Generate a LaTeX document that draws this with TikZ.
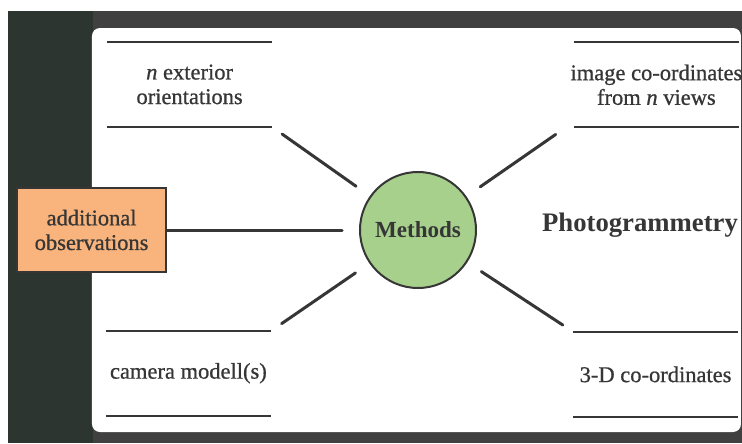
\documentclass[tikz,border=0pt]{standalone}
\usepackage{fontspec}
\setmainfont{Liberation Serif}
\newfontfamily\labelfamily[FakeBold=0.8]{Liberation Serif}
\usepackage{tikz}
\usetikzlibrary{shapes.geometric, positioning, calc}
\definecolor{framegray}{HTML}{404040}
\definecolor{bandgreen}{HTML}{2D3531}
\definecolor{peach}{HTML}{F8B47C}
\definecolor{leaf}{HTML}{A8D08D}
\definecolor{inkgray}{HTML}{363636}
\newcommand{\labelfont}{\labelfamily\fontsize{16}{17.5}\selectfont}
\tikzstyle{textrule} = [line width=0.05cm, draw=inkgray]
\tikzstyle{rulebox} = [rectangle,
minimum width=4.125cm,
minimum height=2.125cm,
text centered,
align=center,
font=\labelfont,
text=inkgray,
append after command={
        \pgfextra{
            \draw[textrule] (\tikzlastnode.center) ++(-2.06,1.06) -- ++(4.125,0);
            \draw[textrule] (\tikzlastnode.center) ++(-2.06,-1.06) -- ++(4.125,0);
        }
    }
]
\tikzstyle{method} = [circle,
minimum size=2.9cm,
draw=inkgray, line width=0.05cm,
fill=leaf,
font=\fontsize{16.4}{18}\selectfont\bfseries,
text=inkgray]
\tikzstyle{extra} = [rectangle,
minimum width=3.725cm,
minimum height=2.1cm,
align=center,
draw=inkgray, line width=0.04cm,
fill=peach,
font=\labelfont,
text=inkgray]
\tikzstyle{heading} = [font=\fontsize{19}{22}\selectfont\bfseries, text=inkgray]
\tikzstyle{link} = [line width=0.075cm, draw=inkgray, line cap=round,
shorten <=0.3cm, shorten >=0.42cm]

\begin{document}
\begin{tikzpicture}[node distance=5.8cm]
                \useasboundingbox (-10.45,-5.325) rectangle (8.1,5.75);
                % dark frame and white panel
                \fill[framegray] (-10.25,-5.325) rectangle (8.1,5.475);
                \fill[bandgreen] (-10.25,-5.325) rectangle (-8.125,5.475);
                \fill[white, rounded corners=0.2cm] (-8.15,-5.05) rectangle (8.075,5.05);

                \node (meth) [method] {Methods};
                \node (ext) [rulebox, left of=meth, xshift=0.09cm, yshift=3.64cm] {\textit{n} exterior\\orientations};
                \node (img) [rulebox, right of=meth, xshift=0.16cm, yshift=3.63cm] {image co-ordinates\\from \textit{n} views};
                \node (cam) [rulebox, left of=meth, xshift=0.06cm, yshift=-3.58cm] {camera modell(s)};
                \node (xyz) [rulebox, right of=meth, xshift=0.14cm, yshift=-3.61cm] {3-D co-ordinates};
                \node (photo) [heading, right of=meth, xshift=-0.25cm, yshift=0.12cm] {Photogrammetry};
                \node (obs) [extra, left of=meth, xshift=-2.36cm] {additional\\observations};

                \draw [link, shorten <=0pt] (obs) -- (meth);
                \draw [link] (ext.south east) -- (meth);
                \draw [link] (img.south west) -- (meth);
                \draw [link] (cam.north east) -- (meth);
                \draw [link] (xyz.north west) -- (meth);
            \end{tikzpicture}
\end{document}
